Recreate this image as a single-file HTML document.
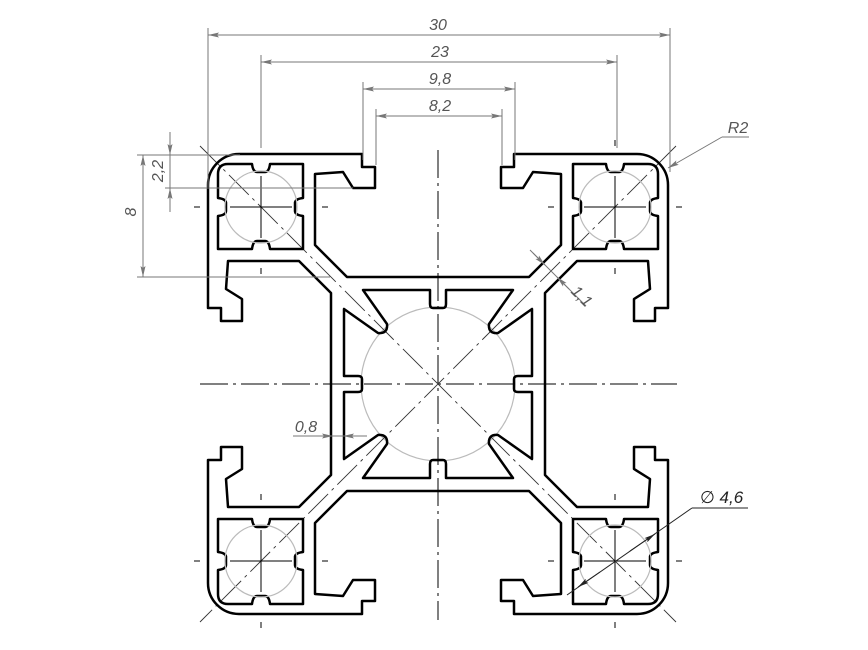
<!DOCTYPE html>
<html><head><meta charset="utf-8"><style>
html,body{margin:0;padding:0;background:#fff;}
svg{display:block;}
.t{font-family:"Liberation Sans",sans-serif;font-style:italic;font-size:16px;fill:#555;}
</style></head><body>
<svg width="868" height="650" viewBox="0 0 868 650" xmlns="http://www.w3.org/2000/svg">
<defs>
<marker id="ar" markerUnits="userSpaceOnUse" markerWidth="12" markerHeight="6" refX="11" refY="3" orient="auto-start-reverse">
<path d="M0,0.5 L11,3 L0,5.5 L2,3 z" fill="#777"/>
</marker>
<marker id="ark" markerUnits="userSpaceOnUse" markerWidth="12" markerHeight="6" refX="11" refY="3" orient="auto-start-reverse">
<path d="M0,0.5 L11,3 L0,5.5 L2,3 z" fill="#222"/>
</marker>
<g id="q">
<path d="M0,-107 L-91,-107 L-123,-139 L-123,-210 L-95,-212 L-85,-196 L-63,-196 L-63,-217 L-76,-217 L-76,-230 L-199,-230 A31,31 0 0 0 -230,-199 L-230,-76 L-217,-76 L-217,-63 L-196,-63 L-196,-85 L-212,-95 L-210,-123 L-139,-123 L-107,-91 L-107,0" fill="none" stroke="#000" stroke-width="2.5" stroke-linejoin="round"/>
<path d="M0,-76 L-5,-76 Q-8,-76 -8,-80 L-8,-94 L-75,-94 L-51,-60 Q-50,-50 -60,-51 L-94,-75 L-94,-8 L-80,-8 Q-76,-8 -76,-5 L-76,0" fill="none" stroke="#000" stroke-width="2.5" stroke-linejoin="round"/>
<g transform="translate(-177,-177)">
<path d="M-33,-43 L-9,-43 Q-8,-35 -4,-35 L4,-35 Q8,-35 9,-43 L42,-43 L42,-9 Q34,-8 34,-4 L34,4 Q34,8 42,9 L42,42 L9,42 Q8,34 4,34 L-4,34 Q-8,34 -9,42 L-43,42 L-43,9 Q-35,8 -35,4 L-35,-4 Q-35,-8 -43,-9 L-43,-33 Q-43,-43 -33,-43 Z" fill="none" stroke="#000" stroke-width="2.5" stroke-linejoin="round"/>
<circle cx="0" cy="0" r="36" fill="none" stroke="#bbb" stroke-width="1.2"/>
<path d="M-31,0 H31 M0,-31 V31" stroke="#000" stroke-width="1"/>
<path d="M-67,0 H-61 M61,0 H67 M0,-67 V-61 M0,61 V67" stroke="#000" stroke-width="1"/>
</g>
</g>
</defs>
<circle cx="438" cy="384" r="77" fill="none" stroke="#bbb" stroke-width="1.2"/>
<g stroke="#000" stroke-width="1" stroke-dasharray="28 5 3 5">
<line x1="438" y1="150" x2="438" y2="620"/>
<line x1="200" y1="384" x2="677" y2="384"/>
</g>
<g stroke="#333" stroke-width="0.9" stroke-dasharray="28 5 3 5">
<line x1="200" y1="146" x2="676" y2="622"/>
<line x1="676" y1="146" x2="200" y2="622"/>
</g>
<g transform="translate(438,384)">
<use href="#q"/>
<use href="#q" transform="scale(-1,1)"/>
<use href="#q" transform="scale(1,-1)"/>
<use href="#q" transform="scale(-1,-1)"/>
</g>
<g stroke="#777" stroke-width="1" fill="none">
<path d="M208,28 V187 M670,28 V172 M261,55 V148 M617,55 V148 M363,82 V160 M515,82 V160 M376,109 V165 M502,109 V165"/>
<line x1="208" y1="35" x2="670" y2="35" marker-start="url(#ar)" marker-end="url(#ar)"/>
<line x1="261" y1="62" x2="617" y2="62" marker-start="url(#ar)" marker-end="url(#ar)"/>
<line x1="363" y1="89" x2="515" y2="89" marker-start="url(#ar)" marker-end="url(#ar)"/>
<line x1="376" y1="116" x2="502" y2="116" marker-start="url(#ar)" marker-end="url(#ar)"/>
<path d="M137,155 H240 M137,277 H330 M165,188 H353"/>
<line x1="143" y1="155" x2="143" y2="277" marker-start="url(#ar)" marker-end="url(#ar)"/>
<line x1="170" y1="132" x2="170" y2="212"/>
<line x1="170" y1="140" x2="170" y2="155" marker-end="url(#ar)"/>
<line x1="170" y1="204" x2="170" y2="188" marker-end="url(#ar)"/>
<path d="M749,137 H722"/>
<line x1="722" y1="137" x2="668" y2="168" marker-end="url(#ar)"/>
<line x1="530" y1="250" x2="586" y2="306"/>
<line x1="533" y1="253" x2="545" y2="265" marker-end="url(#ar)"/>
<line x1="569" y1="289" x2="557" y2="277" marker-end="url(#ar)"/>
<line x1="293" y1="436" x2="367" y2="436"/>
<line x1="318" y1="436" x2="333" y2="436" marker-end="url(#ar)"/>
<line x1="358" y1="436" x2="343" y2="436" marker-end="url(#ar)"/>
</g>
<g stroke="#222" stroke-width="1" fill="none">
<path d="M748,508 H692"/>
<line x1="692" y1="508" x2="567" y2="595"/>
<line x1="630" y1="551" x2="655" y2="534" marker-end="url(#ark)"/>
<line x1="600" y1="572" x2="578" y2="587" marker-end="url(#ark)"/>
</g>
<g class="t" text-anchor="middle">
<text x="438" y="30">30</text>
<text x="440" y="57">23</text>
<text x="440" y="84">9,8</text>
<text x="440" y="111">8,2</text>
<text transform="translate(136,212) rotate(-90)">8</text>
<text transform="translate(163,171) rotate(-90)">2,2</text>
<text x="738" y="133">R2</text>
<text transform="translate(578,300) rotate(45)">1,1</text>
<text x="306" y="432">0,8</text>
</g>
<text x="700" y="503" style="font-family:'Liberation Sans','DejaVu Sans',sans-serif;font-style:italic;font-size:17px;fill:#222">∅ 4,6</text>
</svg>
</body></html>
